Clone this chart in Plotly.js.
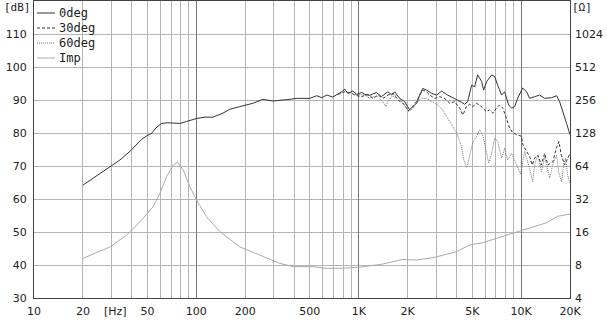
<!DOCTYPE html>
<html>
<head>
<meta charset="utf-8">
<script src="https://cdn.plot.ly/plotly-3.0.1.min.js"></script>
<style>
html,body{margin:0;padding:0;background:#fff;}
#chart{width:607px;height:320px;}
</style>
</head>
<body>
<div id="chart"></div>
<script>
// ---- data ----
const seriesNames = ["0deg", "30deg", "60deg", "Imp"];

const freq0 = [20,22.7,26.6,30.2,33.8,39.5,46,49.4,53,56.3,61.1,66.8,73.8,79.2,87.1,100.3,112.8,126.4,145.6,160.8,185.3,222.7,256.6,295.7,360.6,415.5,499.4,551.4,592,635,692,743,786,820,856,919,972,1044,1089,1169,1285,1379,1508,1596,1665,1788,1919,2001,2059,2149,2275,2374,2477,2621,2813,3020,3242,3529,3897,4303,4490,4686,4958,5173,5400,5714,5878,6135,6586,6871,7170,7586,7916,8378,8741,9120,9517,10070,10214,10810,11280,12106,12998,13952,15405,16546,17260,19055,20000];
const spl0 = [64.2,66.0,68.3,70.0,71.8,74.7,78.1,79.1,79.9,81.5,82.9,83.1,83.0,82.9,83.5,84.4,84.8,84.8,86.0,87.2,88.0,89.0,90.2,89.7,90.1,90.5,90.5,91.3,90.7,91.5,90.9,91.7,92.5,93.3,92.0,92.7,91.7,92.3,91.7,91.4,92.3,91.0,92.5,91.5,92.5,90.5,89.5,88.0,87.0,88.0,89.0,91.5,93.5,93.0,92.0,91.5,92.7,91.5,90.5,89.3,88.7,89.5,94.5,94.0,97.6,95.6,93.0,95.6,97.6,97.1,94.5,91.5,92.5,88.5,87.5,88.0,90.5,93.0,93.6,92.5,90.5,91.0,91.5,90.5,90.7,91.3,89.5,82.9,79.5];

const freq30 = [743,820,906,945,1039,1141,1225,1315,1411,1515,1626,1745,1919,2011,2110,2265,2374,2489,2610,2735,2936,3151,3382,3631,3897,4182,4384,4601,4820,5050,5300,5553,5821,6107,6397,6706,7037,7373,7727,8110,8499,8903,9556,10030,10260,10760,11280,11720,12110,12690,13310,13950,14620,15690,16470,17090,17680,18530,19410,20000];
const spl30 = [91.7,92.5,92.0,91.5,91.0,91.7,90.5,91.5,90.5,91.5,92.0,90.0,88.5,86.7,87.5,89.5,91.5,93.0,92.5,91.5,90.5,91.0,90.5,89.0,89.5,87.5,85.5,88.0,88.7,88.0,89.0,88.5,87.5,86.5,87.0,86.0,87.5,88.5,87.5,84.5,81.5,80.0,79.4,79.0,76.4,74.4,72.9,70.3,72.4,73.3,70.3,73.8,70.3,71.3,75.4,77.4,73.3,70.3,72.4,73.8];

const freq60 = [945,1089,1169,1221,1311,1406,1469,1508,1596,1715,1840,1974,2032,2149,2307,2443,2621,2813,3064,3289,3529,3788,4066,4303,4428,4620,4820,5029,5323,5553,5796,6135,6310,6586,6871,7170,7586,7916,8260,8741,9120,9517,9931,10510,11280,11770,12110,12630,13370,13950,14350,14980,15630,16550,17010,17760,18260,18780,19330,20000];
const spl60 = [91.7,91.5,90.5,91.0,91.0,89.5,88.0,89.5,91.0,91.5,89.5,87.5,86.5,87.5,89.5,90.5,90.5,89.5,88.5,87.0,84.5,82.0,79.4,75.5,72.0,69.5,72.9,76.9,79.0,81.0,79.4,73.8,71.0,73.8,78.4,77.4,72.4,75.4,71.8,73.8,71.8,69.3,67.5,74.4,69.3,65.2,70.3,73.3,68.3,72.9,70.3,66.3,70.3,73.3,68.3,65.2,70.3,72.4,67.3,64.7];

const freqImp = [20,29.4,37.2,44.9,54.2,59.6,65.6,72,76.5,83,91.2,100.3,115.6,139.5,185.3,245.9,326.4,394.1,523.4,632.6,763.8,1000,1411,1874,2265,2866,3992,4820,5821,7037,8903,10760,14290,16850,20000];
const ohmImp = [9.19,11.7,15.0,19.8,27.3,36.0,51.3,65.4,69.5,58.9,41.4,31.3,22.0,16.1,11.7,9.85,8.28,7.73,7.73,7.46,7.46,7.62,8.17,9.0,8.88,9.32,10.56,12.2,12.8,14.0,15.6,17.3,19.4,22.3,23.3];

// axis ticks
const xLabelVals = [10,20,50,100,200,500,1000,2000,5000,10000,20000];
const xLabelText = ["10","20","50","100","200","500","1K","2K","5K","10K","20K"];
const xDecades = [100,1000,10000];
const dbTicks = [30,40,50,60,70,80,90,100,110];
const ohmTicks = [4,8,16,32,64,128,256,512,1024];

// ---- styles ----
const styles = [
  {color: "#333", width: 1, dash: "solid"},
  {color: "#333", width: 1, dash: "3px,2px"},
  {color: "#777", width: 1, dash: "1px,1px"},
  {color: "#aaa", width: 1, dash: "solid"}
];

// ---- build ----
const xGrid = [];
[10,100,1000,10000].forEach(d => { for (let m = 1; m <= 9; m++) { const v = d*m; if (v <= 20000) xGrid.push(v); } });
xGrid.push(20000);
const xGridText = xGrid.map(v => { const i = xLabelVals.indexOf(v); return i >= 0 ? xLabelText[i] : ""; });

const tickFont = {family: "DejaVu Sans, sans-serif", size: 11, color: "#222"};
const XR = [1, Math.log10(20000)];
const Y_R = [30, 120];
const Y2_R = [Math.log10(4), Math.log10(4) + 9*Math.log10(2)];

const xs = [freq0, freq30, freq60, freqImp];
const ys = [spl0, spl30, spl60, ohmImp];
const traces = seriesNames.map((n, i) => ({
  x: xs[i], y: ys[i], name: n, type: "scatter", mode: "lines",
  yaxis: i === 3 ? "y2" : "y", line: styles[i], showlegend: false
}));
// dummy trace on xaxis2 so its grid is drawn
traces.push({x: [], y: [], xaxis: "x2", yaxis: "y", showlegend: false, hoverinfo: "skip", type: "scatter", mode: "lines"});

// custom legend (plot-area pixel positions converted to paper fractions)
const PW = 536, PH = 297, PL = 34, PB = 298;
const px = v => (v - PL) / PW;
const py = v => (PB - v) / PH;
const legendRows = [13, 28, 43, 58];
const shapes = [], annotations = [];
seriesNames.forEach((n, i) => {
  shapes.push({type: "line", xref: "paper", yref: "paper", x0: px(37), x1: px(55),
    y0: py(legendRows[i]), y1: py(legendRows[i]), line: styles[i], layer: "above"});
  annotations.push({text: n, xref: "paper", yref: "paper", x: px(57), y: py(legendRows[i]),
    xanchor: "left", yanchor: "middle", showarrow: false,
    font: {family: "DejaVu Sans Mono, monospace", size: 12, color: "#222"}});
});
annotations.push(
  {text: "[dB]", xref: "paper", yref: "paper", x: px(17), y: py(7), xanchor: "center", yanchor: "middle",
   showarrow: false, font: {family: "DejaVu Sans Mono, monospace", size: 11, color: "#222"}},
  {text: "[Ω]", xref: "paper", yref: "paper", x: px(582), y: py(7), xanchor: "center", yanchor: "middle",
   showarrow: false, font: {family: "DejaVu Sans Mono, monospace", size: 11, color: "#222"}},
  {text: "[Hz]", xref: "paper", yref: "paper", x: px(115), y: py(311), xanchor: "center", yanchor: "middle",
   showarrow: false, font: tickFont}
);

const layout = {
  width: 607, height: 320,
  margin: {l: 34, r: 37, t: 1, b: 22, pad: 0},
  paper_bgcolor: "#fff", plot_bgcolor: "#fff",
  showlegend: false,
  xaxis: {type: "log", range: XR, tickmode: "array", tickvals: xGrid, ticktext: xGridText,
          showgrid: true, gridcolor: "#b4b4b4", gridwidth: 1, ticks: "", zeroline: false,
          showline: true, mirror: true, linecolor: "#444", linewidth: 1,
          tickfont: tickFont, tickangle: 0, ticklabelstandoff: 3},
  xaxis2: {type: "log", range: XR, overlaying: "x", tickmode: "array", tickvals: xDecades,
           showticklabels: false, showgrid: true, gridcolor: "#777", gridwidth: 1, ticks: "",
           zeroline: false, showline: false},
  yaxis: {range: Y_R, tickmode: "array", tickvals: dbTicks, ticktext: dbTicks.map(String),
          showgrid: true, gridcolor: "#b4b4b4", gridwidth: 1, ticks: "", zeroline: false,
          showline: true, mirror: true, linecolor: "#444", linewidth: 1,
          tickfont: tickFont, ticklabelstandoff: 4},
  yaxis2: {type: "log", range: Y2_R, overlaying: "y", side: "right", tickmode: "array",
           tickvals: ohmTicks, ticktext: ohmTicks.map(String), showgrid: false, ticks: "",
           zeroline: false, showline: false, tickfont: tickFont, ticklabelstandoff: 4},
  shapes: shapes,
  annotations: annotations
};

Plotly.newPlot("chart", traces, layout, {staticPlot: true, displayModeBar: false});
</script>
</body>
</html>
